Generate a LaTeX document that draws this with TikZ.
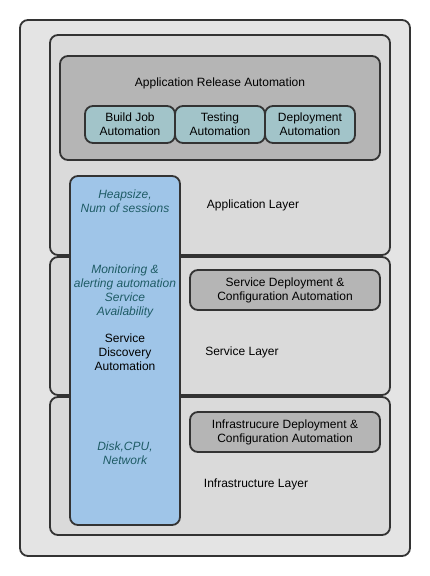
\documentclass[tikz,border=0pt]{standalone}
\usepackage{fontspec}
\setmainfont{Liberation Sans}
\definecolor{outerfill}{HTML}{E4E4E4}
\definecolor{layerfill}{HTML}{DADADA}
\definecolor{boxfill}{HTML}{B5B5B5}
\definecolor{tealfill}{HTML}{A2C4C9}
\definecolor{bluefill}{HTML}{9FC5E8}
\definecolor{edge}{HTML}{333333}
\definecolor{metrictext}{HTML}{1F5C66}
\begin{document}
\begin{tikzpicture}[
  x=1pt, y=-1pt,
  font=\fontsize{12}{14}\selectfont,
  framebox/.style = {draw=edge, line width=1.8pt, rounded corners=8pt, inner sep=0pt},
  outerbox/.style = {framebox, fill=outerfill},
  layerbox/.style = {framebox, fill=layerfill},
  graybox/.style = {framebox, fill=boxfill, align=center},
  tealbox/.style = {framebox, fill=tealfill, align=center},
  bluebox/.style = {framebox, fill=bluefill},
  metriclbl/.style = {text=metrictext, font=\fontsize{12}{14}\selectfont\itshape, align=center},
  plainlbl/.style = {align=center}
]
  \useasboundingbox (0,0) rectangle (430,576);
  % outer frame
  \node[outerbox, minimum width=390pt, minimum height=536pt] (outer) at (215,288) {};
  % layers
  \node[layerbox, minimum width=340pt, minimum height=220pt] (applayer) at (220,145) {};
  \node[layerbox, minimum width=340pt, minimum height=138pt] (svclayer) at (220,326) {};
  \node[layerbox, minimum width=340pt, minimum height=138pt] (infralayer) at (220,466) {};
  % application release automation
  \node[graybox, minimum width=320pt, minimum height=104pt] (release) at (220,108) {};
  \node (releaselbl) at (220,83.5) {Application Release Automation};
  \node[tealbox, minimum width=90pt, minimum height=37pt] (build) at (130,124.5) {Build Job\\Automation};
  \node[tealbox, minimum width=90pt, minimum height=37pt] (testing) at (220,124.5) {Testing\\Automation};
  \node[tealbox, minimum width=90pt, minimum height=37pt] (deploy) at (310,124.5) {Deployment\\Automation};
  % monitoring column
  \node[bluebox, minimum width=110pt, minimum height=349pt] (monitor) at (125,350.5) {};
  \node[metriclbl] (heap) at (125,201.5) {Heapsize,\\Num of sessions};
  \node[metriclbl] (alerting) at (125,291) {Monitoring \&\\alerting automation\\Service\\Availability};
  \node[plainlbl] (discovery) at (125,352) {Service\\Discovery\\Automation};
  \node[metriclbl] (disk) at (125,453.5) {Disk,CPU,\\Network};
  % deployment boxes
  \node[graybox, minimum width=190pt, minimum height=40pt] (svcdeploy) at (285,290) {Service Deployment \&\\Configuration Automation};
  \node[graybox, minimum width=190pt, minimum height=40pt] (infradeploy) at (285,432) {Infrastrucure Deployment \&\\Configuration Automation};
  % layer names
  \node (applbl) at (253,205.5) {Application Layer};
  \node (svclbl) at (242,352.5) {Service Layer};
  \node (infralbl) at (256,484.5) {Infrastructure Layer};
\end{tikzpicture}
\end{document}
